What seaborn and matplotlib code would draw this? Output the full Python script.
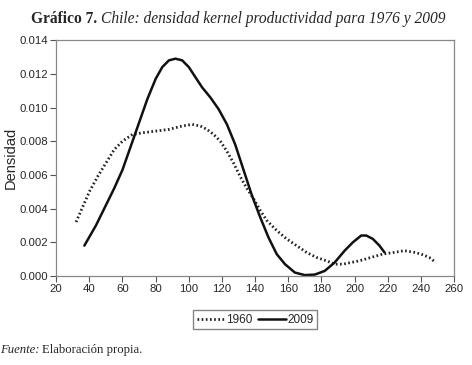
import numpy as np
import pandas as pd
import matplotlib
matplotlib.use("Agg")
import matplotlib.pyplot as plt
import seaborn as sns

# Curve points
x_1960 = [32, 36, 40, 45, 50, 55, 60, 66, 72, 80, 88, 96, 102, 107, 111, 115, 119, 123, 127, 131, 135, 139,
          143, 147, 153, 159, 165, 171, 177, 183, 188, 193, 198, 203, 210, 217, 224, 230, 236, 240, 245, 249]
y_1960 = [0.0032, 0.0041, 0.0050, 0.0059, 0.0067, 0.0075, 0.0080, 0.0084, 0.0085, 0.0086, 0.0087, 0.0089,
          0.0090, 0.0089, 0.0087, 0.0084, 0.0080, 0.0074, 0.0067, 0.0059, 0.0052, 0.0046, 0.0039, 0.0033,
          0.0027, 0.0022, 0.0018, 0.0014, 0.0011, 0.0009, 0.0007, 0.0007, 0.0008, 0.0009, 0.0011, 0.0013,
          0.0014, 0.0015, 0.0014, 0.0013, 0.0011, 0.0008]

x_2009 = [37, 44, 50, 55, 60, 65, 70, 75, 80, 84, 88, 92, 96, 100, 104, 108, 113, 118, 123, 128, 133, 138,
          143, 148, 153, 158, 164, 170, 176, 182, 188, 194, 199, 204, 207, 211, 215, 218]
y_2009 = [0.0018, 0.0030, 0.0042, 0.0052, 0.0063, 0.0077, 0.0091, 0.0105, 0.0117, 0.0124, 0.0128, 0.0129,
          0.0128, 0.0124, 0.0118, 0.0112, 0.0106, 0.0099, 0.0090, 0.0078, 0.0063, 0.0048, 0.0035, 0.0023,
          0.0013, 0.0007, 0.0002, 0.00005, 0.00008, 0.0003, 0.0008, 0.0015, 0.0020, 0.0024, 0.0024, 0.0022,
          0.0018, 0.0014]

x_ticks = list(range(20, 261, 20))
y_ticks = [0.000, 0.002, 0.004, 0.006, 0.008, 0.010, 0.012, 0.014]

df = pd.concat([
    pd.DataFrame({"x": x_1960, "y": y_1960, "serie": "1960"}),
    pd.DataFrame({"x": x_2009, "y": y_2009, "serie": "2009"}),
])

sns.set_style("white")
plt.rcParams["font.family"] = ["Liberation Sans", "DejaVu Sans"]

fig = plt.figure(figsize=(4.72, 3.65), dpi=100)
ax = fig.add_axes([0.119, 0.244, 0.843, 0.646])

sns.lineplot(data=df[df.serie == "1960"], x="x", y="y", color="#222222", lw=2.0,
             linestyle=(0, (0.6, 0.9)), ax=ax, label="1960")
sns.lineplot(data=df[df.serie == "2009"], x="x", y="y", color="#111111", lw=1.8,
             ax=ax, label="2009")

ax.set_xlim(20, 260)
ax.set_ylim(0, 0.014)
ax.set_xticks(x_ticks)
ax.set_yticks(y_ticks)
ax.set_yticklabels([f"{v:.3f}" for v in y_ticks])
ax.tick_params(axis="both", labelsize=8.2, length=4.5, width=0.8, color="#555555",
               direction="out", bottom=True, left=True, pad=1.5)
for s in ax.spines.values():
    s.set_color("#888888")
    s.set_linewidth(0.9)
ax.set_xlabel("")
ax.set_ylabel("Densidad", fontsize=10.5, labelpad=1)

leg = ax.legend(loc="upper center", bbox_to_anchor=(0.5, -0.12), ncol=2, frameon=True,
                fontsize=8.5, fancybox=False, edgecolor="#666666", handlelength=2.4,
                handletextpad=0.1, columnspacing=0.4, borderpad=0.3)

fig.text(0.205, 0.948, "Gráfico 7.", fontsize=11.2, fontweight="bold", family="Liberation Serif",
         ha="right", va="center")
fig.text(0.213, 0.948, "Chile: densidad kernel productividad para 1976 y 2009", fontsize=11.2,
         style="italic", family="Liberation Serif", ha="left", va="center")
fig.text(0.0, 0.04, "Fuente:", fontsize=9.2, style="italic", family="Liberation Serif",
         ha="left", va="center")
fig.text(0.09, 0.04, "Elaboración propia.", fontsize=9.2, family="Liberation Serif",
         ha="left", va="center")

fig.savefig("out.png", dpi=100)
